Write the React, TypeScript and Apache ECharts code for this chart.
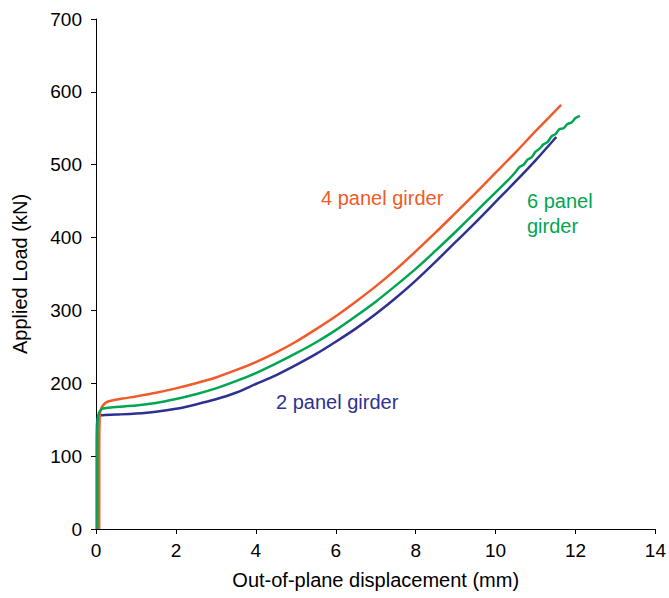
import React, { useEffect, useRef } from "react";
import * as echarts from "echarts";

const xTicks = { min: 0, max: 14, interval: 2 };
const yTicks = { min: 0, max: 700, interval: 100 };

const seriesNames = ["2 panel girder", "4 panel girder", "6 panel girder"];

const panel2: [number, number][] = [
  [0.02, 0], [0.02, 60], [0.02, 120], [0.03, 148], [0.06, 154], [0.12, 156], [0.5, 157],
  [1, 158.5], [1.5, 161], [2, 165], [2.5, 171], [3, 178], [3.5, 187], [4, 199], [4.5, 211],
  [5, 225], [5.5, 240], [6, 257], [6.5, 275], [7, 295], [7.5, 317], [8, 341], [8.5, 367],
  [9, 394], [9.5, 421], [10, 449], [10.5, 477], [11, 506], [11.52, 538],
];

const panel4: [number, number][] = [
  [0.08, 0], [0.08, 60], [0.08, 110], [0.09, 150], [0.11, 162], [0.18, 170], [0.3, 175],
  [0.67, 179], [1, 182], [1.5, 187], [2, 193], [2.5, 200], [3, 208], [3.5, 218], [4, 229],
  [4.5, 242], [5, 257], [5.5, 274], [6, 292], [6.5, 312], [7, 333], [7.5, 356], [8, 381],
  [8.5, 407], [9, 434], [9.5, 461], [10, 489], [10.5, 517], [11, 546], [11.64, 582],
];

const panel6: [number, number][] = [
  [0.03, 0], [0.03, 60], [0.03, 120], [0.04, 148], [0.07, 159], [0.15, 165], [0.4, 167],
  [1, 169.5], [1.5, 173], [2, 178.5], [2.5, 185], [3, 193], [3.5, 203], [4, 214], [4.5, 227],
  [5, 241], [5.5, 256], [6, 273], [6.5, 292], [7, 312], [7.5, 334], [8, 357], [8.5, 382],
  [9, 408], [9.5, 435], [10, 462], [10.3, 478], [10.5, 490], [10.6, 497], [10.7, 500],
  [10.8, 507], [10.9, 510], [11, 518], [11.1, 522], [11.2, 528], [11.3, 531], [11.4, 539],
  [11.5, 542], [11.6, 549], [11.7, 550], [11.8, 556], [11.9, 558], [12.0, 564], [12.11, 567],
];

const colors = { blue: "#2E3192", orange: "#F15A29", green: "#00A651" };
const FONT = "'Liberation Sans', Arial, sans-serif";

export default function App() {
  const ref = useRef<HTMLDivElement>(null);
  useEffect(() => {
    if (!ref.current) return;
    const chart = echarts.init(ref.current, undefined, { renderer: "svg" });
    const axisCommon = {
      axisLine: { show: true, lineStyle: { color: "#000", width: 1 } },
      axisTick: { show: true, length: 5, lineStyle: { color: "#000" } },
      splitLine: { show: false },
      nameLocation: "middle" as const,
      nameTextStyle: { color: "#000", fontSize: 20, fontFamily: FONT },
    };
    chart.setOption({
      animation: false,
      backgroundColor: "#fff",
      grid: { left: 96, right: 10, top: 19, bottom: 69, containLabel: false },
      xAxis: {
        type: "value",
        ...xTicks,
        ...axisCommon,
        name: "Out-of-plane displacement (mm)",
        nameGap: 41,
        axisLabel: { color: "#000", fontSize: 19, fontFamily: FONT, margin: 12 },
      },
      yAxis: {
        type: "value",
        ...yTicks,
        ...axisCommon,
        name: "Applied Load (kN)",
        nameGap: 66,
        axisLabel: { color: "#000", fontSize: 19, fontFamily: FONT, margin: 14 },
      },
      series: [
        { name: seriesNames[0], type: "line", data: panel2, showSymbol: false, smooth: 0.3, lineStyle: { color: colors.blue, width: 2.5 }, z: 2 },
        { name: seriesNames[1], type: "line", data: panel4, showSymbol: false, smooth: 0.3, lineStyle: { color: colors.orange, width: 2.5 }, z: 3 },
        { name: seriesNames[2], type: "line", data: panel6, showSymbol: false, smooth: 0.2, lineStyle: { color: colors.green, width: 2.5 }, z: 4 },
      ],
      graphic: [
        { type: "text", left: 321, top: 188, style: { text: "4 panel girder", fill: colors.orange, font: `20px ${FONT}` } },
        { type: "text", left: 276, top: 392, style: { text: "2 panel girder", fill: colors.blue, font: `20px ${FONT}` } },
        { type: "text", left: 527, top: 188, style: { text: "6 panel\ngirder", fill: colors.green, font: `20px ${FONT}`, lineHeight: 25 } },
      ],
    });
    return () => chart.dispose();
  }, []);
  return <div ref={ref} style={{ position: "fixed", left: 0, top: 0, width: 669, height: 598 }} />;
}
